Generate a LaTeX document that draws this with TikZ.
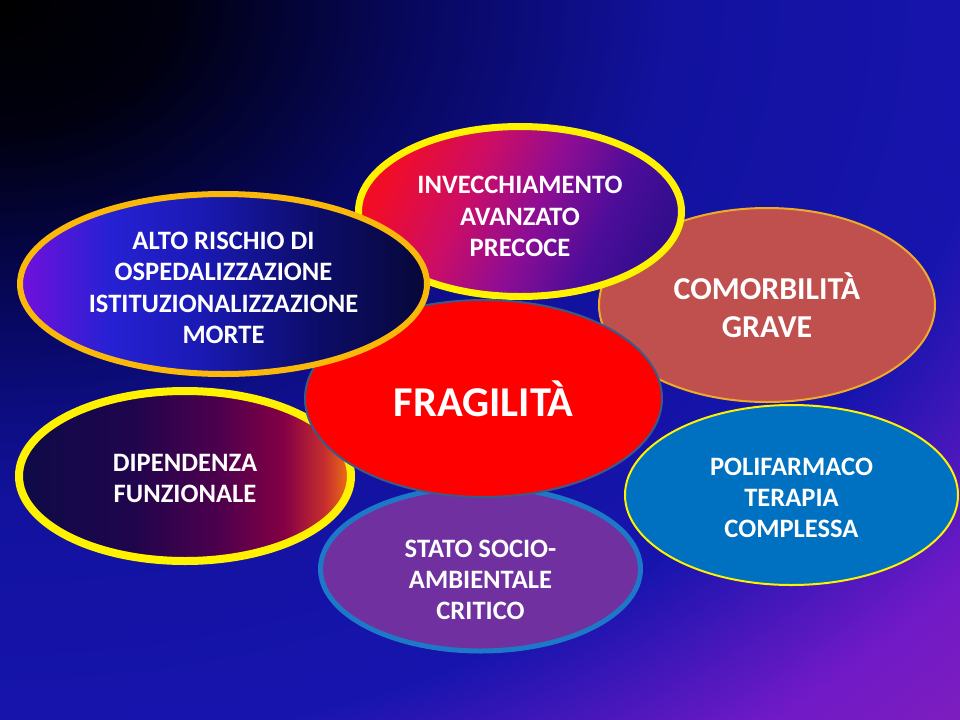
\documentclass[tikz,border=0pt]{standalone}
\usepackage{fontspec}
\setmainfont{Carlito}
\usetikzlibrary{shapes.geometric}
% shadings (the path covers 25bp..75bp of each one)
\pgfdeclareradialshading{bgshade}{\pgfpoint{0bp}{0bp}}{rgb(0bp)=(0,0,0); rgb(4.5bp)=(0,0,0.06);
  rgb(11bp)=(0.03,0.03,0.38); rgb(17.5bp)=(0.07,0.07,0.62); rgb(26bp)=(0.09,0.08,0.68);
  rgb(32bp)=(0.44,0.1,0.78); rgb(36bp)=(0.5,0.12,0.74); rgb(72bp)=(0.5,0.12,0.74)}
\pgfdeclarehorizontalshading{altoshade}{100bp}{rgb(0bp)=(0.45,0.06,0.86); rgb(25bp)=(0.45,0.06,0.86);
  rgb(36bp)=(0.15,0.13,0.83); rgb(47.5bp)=(0.1,0.1,0.7); rgb(61bp)=(0.05,0.05,0.42);
  rgb(75bp)=(0.03,0.03,0.22); rgb(100bp)=(0.03,0.03,0.22)}
\pgfdeclarehorizontalshading{dipshade}{100bp}{rgb(0bp)=(0.06,0.04,0.28); rgb(25bp)=(0.06,0.04,0.28);
  rgb(42bp)=(0.12,0.02,0.3); rgb(55bp)=(0.3,0,0.3); rgb(65bp)=(0.52,0,0.27);
  rgb(71bp)=(0.78,0.18,0.18); rgb(75bp)=(0.94,0.46,0.07); rgb(100bp)=(0.94,0.46,0.07)}
\pgfdeclarehorizontalshading{invshade}{100bp}{rgb(0bp)=(0.95,0.05,0.15); rgb(25bp)=(0.95,0.05,0.15);
  rgb(40bp)=(0.8,0.05,0.4); rgb(52.5bp)=(0.56,0.05,0.58); rgb(65bp)=(0.3,0.05,0.6);
  rgb(75bp)=(0.2,0.05,0.55); rgb(100bp)=(0.2,0.05,0.55)}
\definecolor{altoline}{RGB}{250,185,10}
\definecolor{comorfill}{RGB}{192,80,77}
\definecolor{comorline}{RGB}{240,170,40}
\definecolor{fragline}{RGB}{60,90,135}
\definecolor{statofill}{RGB}{112,48,160}
\definecolor{statoline}{RGB}{30,120,200}
\definecolor{polifill}{RGB}{0,112,192}
\tikzset{
  blob/.style={ellipse, inner sep=0pt, align=center, text=white,
    font=\bfseries\fontsize{20}{23.5}\selectfont},
  rxy/.style 2 args={minimum width={2*#1*0.75bp}, minimum height={2*#2*0.75bp}},
}
\begin{document}
\begin{tikzpicture}[x=0.75bp, y=-0.75bp]
\useasboundingbox (0,0) rectangle (960,720);
\begin{scope}
\clip (0,0) rectangle (960,720);
\shade[shading=bgshade] (-960,-720) rectangle (960,720);
\end{scope}
% outer ring, back to front
\node[blob, rxy={168}{97}, fill=comorfill, draw=comorline, line width=1.5bp,
  font=\bfseries\fontsize{24}{29}\selectfont] (comorbilita) at (767,305) {COMORBILITÀ\\GRAVE};
\node[blob, rxy={166.5}{90}, fill=polifill, draw=yellow, line width=1.5bp, text height=64.5pt]
  (polifarmaco) at (791.5,495) {POLIFARMACO\\TERAPIA\\COMPLESSA};
\node[blob, rxy={161.5}{85}, shade, shading=invshade, shading angle=-25, draw=yellow, line width=5.25bp,
  text height=67.5pt] (invecchiamento) at (520,211.5) {INVECCHIAMENTO\\AVANZATO\\PRECOCE};
\node[blob, rxy={160}{82}, fill=statofill, draw=statoline, line width=3.75bp, text height=76.5pt]
  (stato) at (480.5,569) {STATO SOCIO-\\AMBIENTALE\\CRITICO};
\node[blob, rxy={166}{85}, shade, shading=dipshade, draw=yellow, line width=6bp, text height=40.2pt]
  (dipendenza) at (185,476) {DIPENDENZA\\FUNZIONALE};
% centre
\node[blob, rxy={178.5}{98.5}, fill=red, draw=fragline, line width=1.5bp,
  font=\bfseries\fontsize{32}{38}\selectfont] (fragilita) at (483.5,398.5) {FRAGILITÀ};
\node[blob, rxy={203.5}{90}, shade, shading=altoshade, draw=altoline, line width=4.5bp, text height=89.4pt]
  (alto) at (223.5,284) {ALTO RISCHIO DI\\OSPEDALIZZAZIONE\\ISTITUZIONALIZZAZIONE\\MORTE};
\end{tikzpicture}
\end{document}
